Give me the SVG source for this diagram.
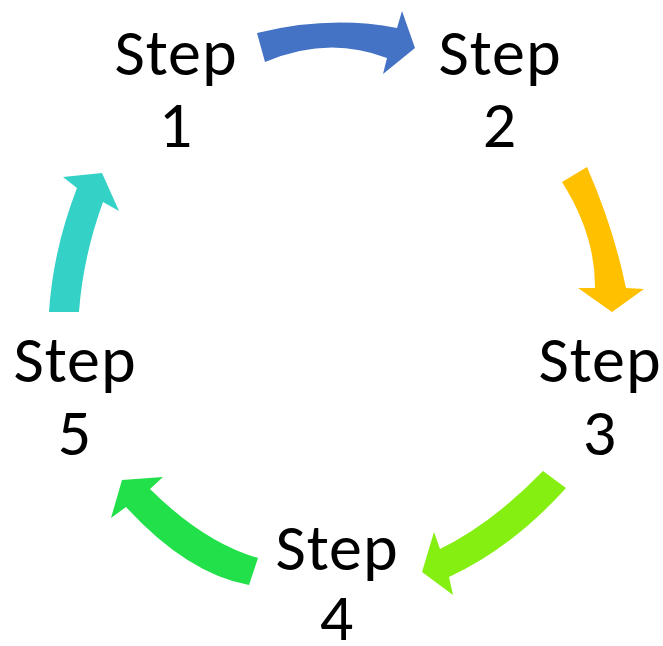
<svg xmlns="http://www.w3.org/2000/svg" width="663" height="646" viewBox="0 0 663 646">
<style>
.t{font-family:Carlito,Lato,"Open Sans",sans-serif;font-size:66px;fill:#000;text-anchor:middle;letter-spacing:1px}
</style>
<rect width="663" height="646" fill="#fff"/>
<g id="connectors">
<path id="a12" fill="#4472C4" d="M257,33 Q330,15 397,28 L402,11 L415,48 L383,74 L387,58 Q328,35 265,62 Z"/>
<path id="a23" fill="#FFC000" d="M562,182 L587,167 Q613.5,227.5 626,288 L644,289 L612,312 L578,288 L595,288 Q595.5,235 562,182 Z"/>
<path id="a34" fill="#86EF12" d="M543,471 L566,488 Q512.5,547.5 449,577 L453,595 L422,572 L434,532 L440,549 Q491.5,524 543,471 Z"/>
<path id="a45" fill="#22E04A" d="M258,558 L249,585 Q187.5,574 126,507 L111,518 L122,480 L163,477 L150,489 Q204,542.5 258,558 Z"/>
<path id="a51" fill="#33D1C6" d="M49,312 L79,312 Q83,257 103,202 L119,211 L102,173 L63,177 L77,188 Q53,250 49,312 Z"/>
</g>
<g id="n1"><text class="t" x="176" y="75">Step</text><text class="t" x="176" y="147">1</text></g>
<g id="n2"><text class="t" x="500" y="75">Step</text><text class="t" x="500" y="147">2</text></g>
<g id="n3"><text class="t" x="600" y="382">Step</text><text class="t" x="600" y="455">3</text></g>
<g id="n4"><text class="t" x="337" y="570">Step</text><text class="t" x="337" y="640">4</text></g>
<g id="n5"><text class="t" x="75" y="382">Step</text><text class="t" x="75" y="455">5</text></g>
</svg>
